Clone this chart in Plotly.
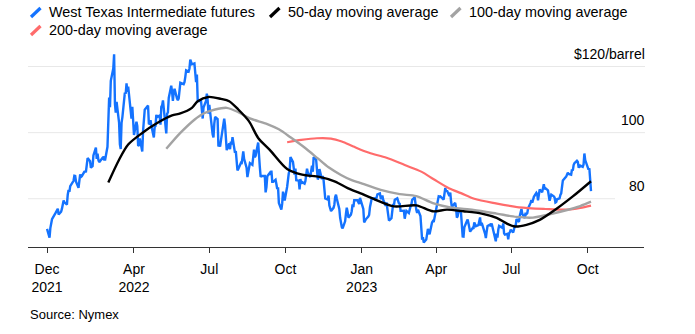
import pandas as pd
import plotly.graph_objects as go

# ---------------- data ----------------
# NYMEX closed days inside the plotted window
holidays = ["2021-12-24", "2022-01-17", "2022-02-21", "2022-04-15", "2022-05-30",
            "2022-06-20", "2022-07-04", "2022-09-05", "2022-11-24", "2022-12-26",
            "2023-01-02", "2023-01-16", "2023-02-20", "2023-04-07", "2023-05-29",
            "2023-06-19", "2023-07-04", "2023-09-04"]
first_day = "2021-12-17"

# West Texas Intermediate futures, daily close ($/barrel)
wti_close = [
    # Dec 2021
    70.86, 68.23, 71.12, 72.76, 73.79, 75.57, 75.98, 76.56, 76.99, 75.21,
    # Jan 2022
    76.08, 76.99, 77.85, 79.46, 78.90, 78.23, 81.22, 82.64, 82.12, 83.82,
    85.43, 86.96, 86.90, 85.14, 83.31, 85.60, 87.35, 86.61, 86.82, 88.15,
    # Feb 2022
    88.20, 88.26, 90.27, 92.31, 91.32, 89.36, 89.66, 89.88, 93.10, 95.46,
    92.07, 93.66, 91.76, 91.07, 92.35, 92.10, 92.81, 91.59, 95.72,
    # Mar 2022
    103.41, 110.60, 107.67, 115.68, 119.40, 123.70, 108.70, 106.02, 109.33, 103.01,
    96.44, 95.04, 102.98, 104.70, 112.12, 111.76, 114.93, 112.34, 113.90, 105.96,
    104.24, 107.82, 100.28,
    # Apr 2022
    99.27, 103.28, 102.00, 96.23, 96.03, 98.26, 94.29, 100.60, 104.25, 106.95,
    108.21, 102.56, 102.75, 103.79, 102.07, 98.54, 101.70, 102.02, 105.36, 104.69,
    # May 2022
    105.17, 102.41, 107.81, 108.26, 109.77, 103.09, 99.76, 105.71, 106.13, 110.49,
    114.20, 112.40, 109.59, 112.21, 113.23, 110.29, 109.77, 110.33, 114.09, 115.07,
    114.67,
    # Jun 2022
    115.26, 116.87, 118.87, 118.50, 119.41, 122.11, 121.51, 120.67, 120.93, 118.93,
    115.31, 117.59, 109.56, 109.52, 106.19, 104.27, 107.62, 109.57, 111.76, 109.78,
    105.76,
    # Jul 2022
    108.43, 99.50, 98.53, 102.73, 104.79, 104.09, 95.84, 96.30, 95.78, 97.59,
    102.60, 104.22, 102.26, 96.35, 94.70, 96.70, 94.98, 97.26, 96.42, 98.62,
    # Aug 2022
    93.89, 94.42, 90.66, 88.54, 89.01, 90.76, 90.50, 91.93, 94.34, 92.09,
    89.41, 86.53, 88.11, 90.50, 90.77, 90.23, 93.74, 94.89, 92.52, 93.06,
    97.01, 91.64, 89.55,
    # Sep 2022
    86.61, 86.87, 86.88, 81.94, 83.54, 86.79, 87.78, 87.31, 88.48, 85.10,
    85.11, 85.73, 84.45, 82.94, 83.49, 78.74, 76.71, 78.50, 82.15, 81.23,
    79.49,
    # Oct 2022
    83.63, 86.52, 87.76, 88.45, 92.64, 91.13, 89.35, 87.27, 89.11, 85.61,
    85.46, 82.82, 85.98, 84.51, 85.05, 84.58, 85.32, 87.91, 89.08, 87.90,
    86.53,
    # Nov 2022
    88.37, 90.00, 88.17, 92.61, 91.79, 88.91, 85.83, 86.47, 88.96, 85.87,
    86.92, 85.59, 81.64, 80.08, 79.73, 80.95, 77.94, 76.28, 77.24, 78.20,
    80.55,
    # Dec 2022
    81.22, 79.98, 76.93, 74.25, 72.01, 71.46, 71.02, 73.17, 75.39, 77.28,
    76.11, 74.29, 75.19, 76.23, 78.29, 77.49, 79.56, 79.53, 78.96, 78.40,
    80.26,
    # Jan 2023
    76.93, 72.84, 73.67, 73.77, 74.63, 75.12, 77.41, 78.39, 79.86, 80.18,
    79.48, 80.33, 81.31, 81.62, 80.13, 80.15, 81.01, 79.68, 77.90, 78.87,
    # Feb 2023
    76.41, 75.88, 73.39, 74.11, 77.14, 78.47, 78.06, 79.72, 80.14, 79.06,
    78.59, 78.49, 76.34, 76.36, 73.95, 75.39, 76.32, 75.68, 77.05,
    # Mar 2023
    77.69, 78.16, 79.68, 80.46, 77.58, 76.66, 75.72, 76.68, 74.80, 71.33,
    67.61, 68.35, 66.74, 67.64, 69.33, 70.90, 69.96, 69.26, 72.81, 73.20,
    72.97, 74.37, 75.67,
    # Apr 2023
    80.42, 80.71, 80.61, 80.70, 79.74, 81.53, 83.26, 82.16, 82.52, 80.83,
    81.86, 79.16, 77.37, 77.87, 78.76, 77.07, 74.30, 74.76, 76.78,
    # May 2023
    75.66, 71.66, 68.60, 68.56, 71.34, 73.16, 73.71, 72.56, 70.87, 70.04,
    71.11, 70.86, 72.83, 71.86, 71.69, 71.99, 72.91, 74.34, 71.83, 72.67,
    69.46, 68.09,
    # Jun 2023
    70.10, 71.74, 72.15, 71.74, 72.53, 71.29, 70.17, 67.12, 69.42, 68.27,
    70.62, 71.78, 71.19, 72.53, 69.51, 69.16, 69.37, 67.70, 69.56, 69.86,
    70.64,
    # Jul 2023
    69.79, 71.79, 71.80, 73.86, 72.99, 74.83, 75.75, 76.89, 75.42, 74.15,
    75.75, 75.35, 75.63, 77.07, 78.74, 79.63, 78.78, 80.09, 80.58, 81.80,
    # Aug 2023
    81.37, 79.49, 81.55, 82.82, 81.94, 82.92, 84.40, 82.82, 83.19, 82.51,
    80.99, 79.38, 80.39, 81.25, 80.72, 80.35, 78.89, 79.05, 79.83, 80.10,
    81.16, 81.63, 83.63,
    # Sep 2023
    85.55, 86.69, 87.54, 87.87, 87.51, 87.29, 88.84, 88.52, 90.16, 90.77,
    91.48, 91.20, 89.66, 89.63, 90.03, 89.68, 90.39, 93.68, 91.71, 90.79,
    # Oct 2023
    88.82, 89.23, 84.22, 82.31,
]

# moving averages
ma50_dates = ["2022-03-01", "2022-03-14", "2022-03-25", "2022-04-11", "2022-04-29",
              "2022-05-17", "2022-05-27", "2022-06-10", "2022-06-17", "2022-06-30",
              "2022-07-15", "2022-07-25", "2022-08-05", "2022-08-18", "2022-08-29",
              "2022-09-12", "2022-10-03", "2022-10-21", "2022-11-11", "2022-11-30",
              "2022-12-15", "2022-12-30", "2023-01-16", "2023-02-09", "2023-03-08",
              "2023-03-28", "2023-04-14", "2023-05-04", "2023-05-26", "2023-06-13",
              "2023-06-26", "2023-07-05", "2023-07-19", "2023-08-04", "2023-08-24",
              "2023-09-13", "2023-10-05"]
ma50_values = [84.9, 91.8, 96.4, 99.9, 102.9,
               105.2, 105.8, 107.5, 109.5, 110.8,
               110.2, 109.5, 107.0, 103.4, 98.4,
               94.8, 89.0, 87.3, 86.6, 85.2,
               83.2, 81.7, 79.9, 77.7, 78.0,
               76.2, 76.7, 76.2, 75.5, 74.2,
               72.4, 71.6, 72.1, 73.6, 76.9,
               80.7, 85.3]

ma100_dates = ["2022-05-10", "2022-05-27", "2022-06-13", "2022-06-24", "2022-07-08",
               "2022-07-22", "2022-08-05", "2022-08-19", "2022-09-09", "2022-09-23",
               "2022-10-07", "2022-10-24", "2022-11-09", "2022-11-22", "2022-12-07",
               "2022-12-20", "2022-12-30", "2023-01-24", "2023-02-16", "2023-03-08",
               "2023-03-28", "2023-04-18", "2023-05-16", "2023-06-13", "2023-07-07",
               "2023-07-27", "2023-08-16", "2023-09-06", "2023-09-22", "2023-10-05"]
ma100_values = [95.1, 99.9, 103.9, 105.8, 107.0,
                107.5, 106.2, 104.3, 102.6, 101.0,
                98.6, 95.5, 92.2, 89.5, 87.2,
                85.6, 84.8, 82.7, 81.4, 80.8,
                78.7, 77.4, 76.6, 75.5, 74.5,
                74.3, 75.3, 76.6, 77.8, 79.1]

ma200_dates = ["2022-10-03", "2022-10-20", "2022-11-08", "2022-11-25", "2022-12-08",
               "2022-12-22", "2023-01-10", "2023-01-31", "2023-02-22", "2023-03-14",
               "2023-03-29", "2023-04-17", "2023-05-01", "2023-05-17", "2023-06-12",
               "2023-07-10", "2023-08-11", "2023-09-06", "2023-09-22", "2023-10-05"]
ma200_values = [97.1, 97.8, 98.3, 98.2, 97.3,
                95.8, 93.9, 92.4, 90.2, 88.2,
                85.9, 83.1, 81.7, 80.0, 78.6,
                77.4, 76.9, 76.7, 77.2, 77.9]

series_names = ["West Texas Intermediate futures", "50-day moving average",
                "100-day moving average", "200-day moving average"]

x_tick_vals = ["2021-12-17", "2022-04-01", "2022-07-01", "2022-10-01",
               "2023-01-01", "2023-04-01", "2023-07-01", "2023-10-01"]
x_tick_text = ["Dec<br>2021", "Apr<br>2022", "Jul", "Oct",
               "Jan<br>2023", "Apr", "Jul", "Oct"]
y_tick_vals = [80, 100, 120]
y_tick_text = ["80", "100", "$120/barrel"]
x_range = ["2021-11-24", "2023-12-08"]
y_range = [65.4, 125.0]

# ---------------- styling ----------------
W, H = 695, 334
ML, MR, MT, MB = 28, 51, 50, 87
PW, PH = W - ML - MR, H - MT - MB
FONT = "Liberation Sans, Arial, Helvetica, sans-serif"
colors = ["#1473ff", "#000000", "#a3a3a3", "#ff6b6b"]
GRID = "#e8e8e8"


def px_x(px):
    return (px - ML) / PW


def px_y(py):
    return (H - MB - py) / PH


trade_days = pd.bdate_range(first_day, periods=len(wti_close), freq="C", holidays=holidays)

fig = go.Figure()
fig.add_trace(go.Scatter(x=trade_days, y=wti_close, mode="lines",
                         line=dict(color=colors[0], width=2.4), name=series_names[0]))
fig.add_trace(go.Scatter(x=pd.to_datetime(ma200_dates), y=ma200_values, mode="lines",
                         line=dict(color=colors[3], width=2.2, shape="spline", smoothing=0.8),
                         name=series_names[3]))
fig.add_trace(go.Scatter(x=pd.to_datetime(ma100_dates), y=ma100_values, mode="lines",
                         line=dict(color=colors[2], width=2.4, shape="spline", smoothing=0.8),
                         name=series_names[2]))
fig.add_trace(go.Scatter(x=pd.to_datetime(ma50_dates), y=ma50_values, mode="lines",
                         line=dict(color=colors[1], width=2.4, shape="spline", smoothing=0.8),
                         name=series_names[1]))

# custom legend (slanted swatches + labels)
legend_pos = [(29, 12.5), (268, 12.5), (449, 12.5), (29, 30.5)]
legend_order = [0, 1, 2, 3]
shapes = []
annotations = []
for (lx, ly), idx in zip(legend_pos, legend_order):
    shapes.append(dict(type="line", xref="paper", yref="paper",
                       x0=px_x(lx + 2), y0=px_y(ly + 4.5), x1=px_x(lx + 11.5), y1=px_y(ly - 4.5),
                       line=dict(color=colors[idx], width=3.2)))
    annotations.append(dict(text=series_names[idx], xref="paper", yref="paper",
                            x=px_x(lx + 17.5), y=px_y(ly), xanchor="left", yanchor="middle",
                            showarrow=False, font=dict(family=FONT, size=14.4, color="#000")))

# horizontal gridlines (the lowest one stops short of its label)
grid_ends = [615, 645, 645]
for v, end in zip(y_tick_vals, grid_ends):
    shapes.append(dict(type="line", xref="paper", yref="y", layer="below",
                       x0=0, x1=px_x(end), y0=v, y1=v,
                       line=dict(color=GRID, width=1)))

# y labels above gridlines, right-aligned
for v, t in zip(y_tick_vals, y_tick_text):
    annotations.append(dict(text=t, xref="paper", yref="y", x=1.0, y=v,
                            xanchor="right", yanchor="bottom", yshift=3, xshift=3,
                            showarrow=False, font=dict(family=FONT, size=14, color="#000")))

annotations.append(dict(text="Source: Nymex", xref="paper", yref="paper",
                        x=px_x(27.5), y=px_y(314), xanchor="left", yanchor="middle",
                        showarrow=False, font=dict(family=FONT, size=13, color="#000")))

fig.update_layout(
    width=W, height=H,
    margin=dict(l=ML, r=MR, t=MT, b=MB, pad=0),
    paper_bgcolor="white", plot_bgcolor="white",
    showlegend=False,
    font=dict(family=FONT, size=14, color="#000"),
    shapes=shapes, annotations=annotations,
    xaxis=dict(type="date", range=x_range, tickmode="array",
               tickvals=x_tick_vals, ticktext=x_tick_text,
               showgrid=False, zeroline=False,
               showline=True, linecolor="#333", linewidth=1,
               ticks="outside", ticklen=5, tickcolor="#333", tickwidth=1,
               ticklabelstandoff=4,
               tickfont=dict(family=FONT, size=14, color="#000")),
    yaxis=dict(range=y_range, side="right", tickmode="array", tickvals=y_tick_vals,
               showticklabels=False, ticks="",
               showgrid=False, zeroline=False, showline=False),
)

fig.write_html("out.html")
